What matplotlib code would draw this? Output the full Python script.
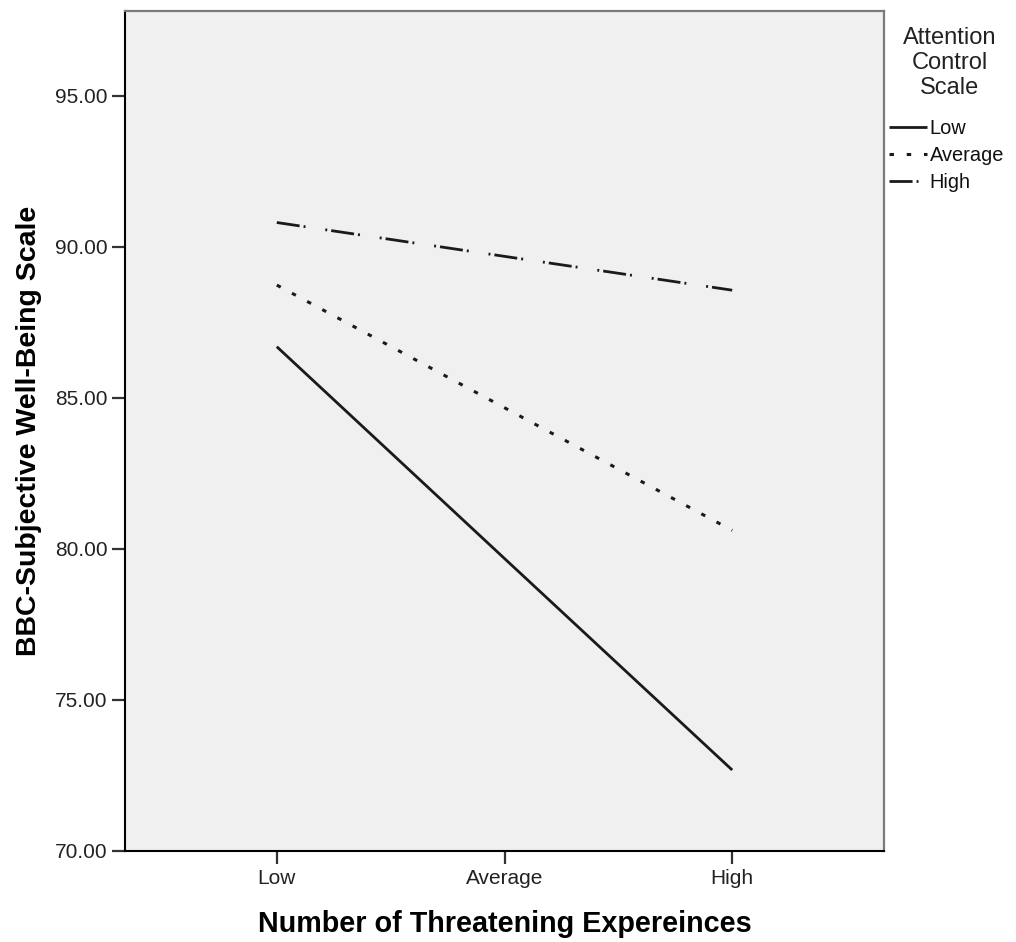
import matplotlib
matplotlib.use("Agg")
import matplotlib.pyplot as plt

categories = ["Low", "Average", "High"]
series_names = ["Low", "Average", "High"]
low_values = [86.69, 79.68, 72.68]
average_values = [88.73, 84.67, 80.61]
high_values = [90.80, 89.68, 88.56]
legend_title = "Attention\nControl\nScale"

plt.rcParams['font.family'] = ['Liberation Sans', 'DejaVu Sans']
plt.rcParams['lines.scale_dashes'] = False

W, H = 1016, 942
fig = plt.figure(figsize=(W / 100, H / 100), dpi=100)
ax = fig.add_axes([125 / W, 1 - 851 / H, (884 - 125) / W, (851 - 11) / H])
ax.set_facecolor('#F0F0F0')

x = list(range(len(categories)))
ax.plot(x, low_values, color='#1a1a1a', lw=2.0, solid_capstyle='butt', label=series_names[0])
ax.plot(x, average_values, color='#1a1a1a', lw=2.2, dashes=(3.2, 9.2), label=series_names[1])
ax.plot(x, high_values, color='#1a1a1a', lw=2.0, dashes=(16.6, 2.9, 1.4, 14.4, 1.4, 2.9), label=series_names[2])

ax.set_xlim(-2 / 3, 2 + 2 / 3)
ax.set_ylim(70, 97.8)
ax.set_xticks(x)
ax.set_xticklabels(categories)
ax.set_yticks([70, 75, 80, 85, 90, 95])
ax.set_yticklabels([f"{v:.2f}" for v in [70, 75, 80, 85, 90, 95]])
ax.tick_params(axis='both', labelsize=15, colors='#333333', width=1.6)
ax.tick_params(axis='y', length=9.5, pad=3)
ax.tick_params(axis='x', length=9, pad=4)
for t in ax.get_xticklabels() + ax.get_yticklabels():
    t.set_color('#222222')

for s in ['left', 'bottom']:
    ax.spines[s].set_color('black')
    ax.spines[s].set_linewidth(1.5)
for s in ['top', 'right']:
    ax.spines[s].set_color('#7a7a7a')
    ax.spines[s].set_linewidth(1.6)

ax.set_xlabel("Number of Threatening Expereinces", fontsize=20.7, fontweight='bold', labelpad=15.5)
ax.set_ylabel("BBC-Subjective Well-Being Scale", fontsize=20.5, fontweight='bold', labelpad=9.5)

fig.text(950 / W, 1 - 27 / H, legend_title, ha='center', va='top', fontsize=17,
         linespacing=1.18, color='#222222', multialignment='center')

leg = ax.legend(loc='upper left', bbox_to_anchor=(889 / W, 1 - 119 / H), bbox_transform=fig.transFigure,
                frameon=False, fontsize=14.4,
                handlelength=1.9, handletextpad=0.13, labelspacing=0.4, borderpad=0, borderaxespad=0)
for t in leg.get_texts():
    t.set_color('#111111')

fig.savefig("out.png", dpi=100, facecolor='white')
